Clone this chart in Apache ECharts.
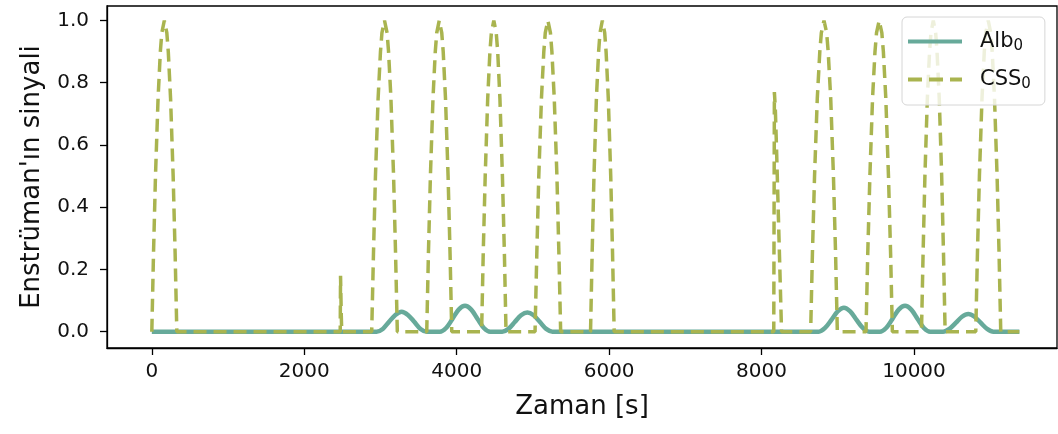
<!DOCTYPE html>
<html>
<head>
<meta charset="utf-8">
<script src="https://cdn.jsdelivr.net/npm/echarts@6/dist/echarts.min.js"></script>
<style>
  html, body { margin: 0; padding: 0; background: #fff; }
  #chart { width: 1058px; height: 434px; }
</style>
</head>
<body>
<div id="chart"></div>
<script>
// Alb_0: slow bumps (time in s, signal)
const albTime = [
  0, 2948, 3030, 3113, 3195, 3278, 3360, 3443, 3525, 3608,
  3779, 3861, 3944, 4026, 4109, 4191, 4274, 4356, 4439,
  4597, 4679, 4762, 4844, 4927, 5009, 5092, 5174, 5257,
  8751, 8833, 8916, 8998, 9081, 9163, 9246, 9328, 9411,
  9552, 9634, 9717, 9799, 9882, 9964, 10047, 10129, 10212,
  10382, 10464, 10547, 10629, 10712, 10794, 10877, 10959, 11042,
  11382
]
const albSignal = [
  0, 0, 0.009, 0.032, 0.054, 0.064, 0.054, 0.032, 0.009, 0,
  0, 0.012, 0.041, 0.071, 0.083, 0.071, 0.041, 0.012, 0,
  0, 0.009, 0.031, 0.053, 0.062, 0.053, 0.031, 0.009, 0,
  0, 0.012, 0.038, 0.065, 0.077, 0.065, 0.038, 0.012, 0,
  0, 0.012, 0.041, 0.071, 0.083, 0.071, 0.041, 0.012, 0,
  0, 0.009, 0.028, 0.048, 0.057, 0.048, 0.028, 0.009, 0,
  0
]

// CSS_0: narrow arches and two spikes
const cssTime = [
  0, 22, 48, 82, 112, 131, 164, 197, 216, 246, 280, 306, 328,
  2472, 2476, 2486, 2492,
  2885, 2908, 2934, 2969, 3000, 3019, 3053, 3087, 3106, 3137, 3172, 3198, 3221,
  3607, 3629, 3655, 3689, 3719, 3738, 3771, 3804, 3823, 3853, 3887, 3913, 3935,
  4327, 4348, 4374, 4407, 4436, 4455, 4487, 4519, 4538, 4567, 4600, 4626, 4647,
  5028, 5051, 5077, 5112, 5143, 5162, 5196, 5230, 5249, 5280, 5315, 5341, 5364,
  5756, 5777, 5801, 5833, 5862, 5880, 5911, 5942, 5960, 5989, 6021, 6045, 6066,
  8160, 8168, 8180, 8195, 8215, 8240, 8262,
  8644, 8667, 8695, 8731, 8764, 8784, 8819, 8854, 8874, 8907, 8943, 8971, 8994,
  9370, 9393, 9421, 9456, 9488, 9508, 9543, 9578, 9598, 9630, 9665, 9693, 9716,
  10098, 10119, 10143, 10175, 10204, 10222, 10253, 10284, 10302, 10331, 10363, 10387, 10408,
  10810, 10832, 10858, 10892, 10922, 10941, 10974, 11007, 11026, 11056, 11090, 11116, 11138,
  11382
]
const cssSignal = [
  0, 0.25, 0.5, 0.75, 0.9, 0.96, 1.0, 0.96, 0.9, 0.75, 0.5, 0.25, 0,
  0, 0.18, 0.05, 0,
  0, 0.25, 0.5, 0.75, 0.9, 0.96, 1.0, 0.96, 0.9, 0.75, 0.5, 0.25, 0,
  0, 0.25, 0.5, 0.75, 0.9, 0.96, 1.0, 0.96, 0.9, 0.75, 0.5, 0.25, 0,
  0, 0.25, 0.5, 0.75, 0.9, 0.96, 1.0, 0.96, 0.9, 0.75, 0.5, 0.25, 0,
  0, 0.25, 0.5, 0.75, 0.9, 0.96, 1.0, 0.96, 0.9, 0.75, 0.5, 0.25, 0,
  0, 0.25, 0.5, 0.75, 0.9, 0.96, 1.0, 0.96, 0.9, 0.75, 0.5, 0.25, 0,
  0, 0.77, 0.72, 0.6, 0.42, 0.2, 0,
  0, 0.25, 0.5, 0.75, 0.9, 0.96, 1.0, 0.96, 0.9, 0.75, 0.5, 0.25, 0,
  0, 0.25, 0.5, 0.75, 0.9, 0.96, 1.0, 0.96, 0.9, 0.75, 0.5, 0.25, 0,
  0, 0.25, 0.5, 0.75, 0.9, 0.96, 1.0, 0.96, 0.9, 0.75, 0.5, 0.25, 0,
  0, 0.25, 0.5, 0.75, 0.9, 0.96, 1.0, 0.96, 0.9, 0.75, 0.5, 0.25, 0,
  0
]

const xTicks = [0, 2000, 4000, 6000, 8000, 10000]
const yTicks = [0, 0.2, 0.4, 0.6, 0.8, 1.0]

const ALB_COLOR = '#67aa9a'
const CSS_COLOR = '#a9b44f'
const FONT = 'DejaVu Sans'

// legend handles drawn as paths (54 x 4)
const SOLID_ICON = 'path://M0,0h54v4h-54z'
const DASH_ICON = 'path://M0,0h14v4h-14z M21,0h14v4h-14z M42,0h12v4h-12z'

const zip = (xs, ys) => xs.map((x, i) => [x, ys[i]])

const chart = echarts.init(document.getElementById('chart'), null, { renderer: 'canvas' })

const legendRich = {
  m: { fontFamily: FONT, fontSize: 21, color: '#111', lineHeight: 26 },
  s: { fontFamily: FONT, fontSize: 15, color: '#111', lineHeight: 26, padding: [10, 0, 0, 0] },
}

chart.setOption({
  animation: false,
  backgroundColor: '#fff',
  textStyle: { fontFamily: FONT },
  grid: {
    left: 107, right: 1, top: 6, bottom: 86,
    show: true, borderColor: '#000', borderWidth: 1.3,
  },
  legend: {
    orient: 'vertical',
    left: 902, top: 17,
    padding: [12, 14, 13, 6],
    itemWidth: 54, itemHeight: 4, itemGap: 13,
    symbolKeepAspect: false,
    backgroundColor: 'rgba(255,255,255,0.8)',
    borderColor: '#d6d6d6', borderWidth: 1, borderRadius: 5,
    data: [
      { name: 'Alb0', icon: SOLID_ICON, itemStyle: { color: ALB_COLOR } },
      { name: 'CSS0', icon: DASH_ICON, itemStyle: { color: CSS_COLOR } },
    ],
    formatter: name => '{m|' + name.slice(0, -1) + '}{s|0}',
    textStyle: { rich: legendRich, padding: [0, 0, 0, 13] },
  },
  xAxis: {
    type: 'value',
    min: -588, max: 11876,
    name: 'Zaman [s]',
    nameLocation: 'middle',
    nameGap: 46,
    nameTextStyle: { fontFamily: FONT, fontSize: 26, color: '#111' },
    axisLine: { show: true, onZero: false, lineStyle: { color: '#000', width: 1.3 } },
    axisTick: { show: true, length: 7, customValues: xTicks, lineStyle: { color: '#000', width: 1.3 } },
    axisLabel: {
      customValues: xTicks, margin: 14,
      fontFamily: FONT, fontSize: 20, color: '#111',
      formatter: v => String(v),
    },
    splitLine: { show: false },
  },
  yAxis: {
    type: 'value',
    min: -0.0524, max: 1.0466,
    name: "Enstrüman'ın sinyali",
    nameLocation: 'middle',
    nameGap: 62,
    nameTextStyle: { fontFamily: FONT, fontSize: 26, color: '#111' },
    axisLine: { show: true, onZero: false, lineStyle: { color: '#000', width: 1.3 } },
    axisTick: { show: true, length: 7, customValues: yTicks, lineStyle: { color: '#000', width: 1.3 } },
    axisLabel: {
      customValues: yTicks, margin: 18,
      fontFamily: FONT, fontSize: 20, color: '#111',
      formatter: v => v.toFixed(1),
    },
    splitLine: { show: false },
  },
  series: [
    {
      name: 'Alb0',
      type: 'line',
      data: zip(albTime, albSignal),
      showSymbol: false,
      symbol: 'none',
      smooth: 0.3,
      lineStyle: { color: ALB_COLOR, width: 4.5 },
      itemStyle: { color: ALB_COLOR },
    },
    {
      name: 'CSS0',
      type: 'line',
      data: zip(cssTime, cssSignal),
      showSymbol: false,
      symbol: 'none',
      lineStyle: { color: CSS_COLOR, width: 3.5, type: [13, 7] },
      itemStyle: { color: CSS_COLOR },
    },
  ],
})
</script>
</body>
</html>
